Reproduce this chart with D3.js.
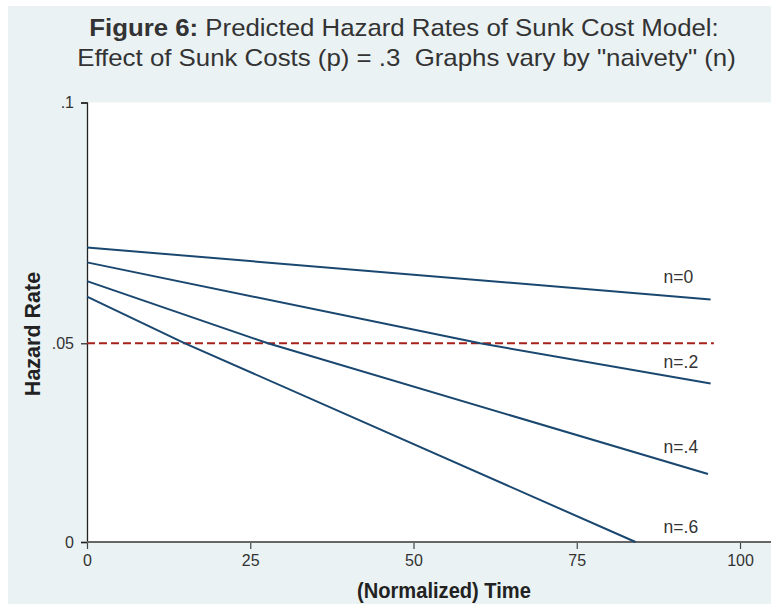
<!DOCTYPE html>
<html>
<head>
<meta charset="utf-8">
<script src="https://cdn.jsdelivr.net/npm/d3@7"></script>
<style>
html,body{margin:0;padding:0;background:#fff;}
svg{display:block;font-family:"Liberation Sans",Arial,sans-serif;}
</style>
</head>
<body>
<svg id="chart" width="771" height="604"></svg>
<script>
// ---- data ----
const seriesNames = ["n=0", "n=.2", "n=.4", "n=.6"];
// time points read for each line: start, crossing of the .05 level (if any), end
const seriesTime   = [[0, 95.5], [0, 60.2, 95.5], [0, 27.7, 95.1], [0, 15.0, 84]];
const seriesHazard = [[0.0699, 0.0591], [0.0668, 0.05, 0.0399], [0.0629, 0.05, 0.0171], [0.0597, 0.05, 0.0]];
const labelTime   = [88.3, 88.3, 88.3, 88.3];
const labelHazard = [0.0625, 0.0437, 0.0223, 0.0022];
const refHazard   = 0.05;
const refRange    = [0, 96];
const xTicks      = [0, 25, 50, 75, 100];
const yTicks      = [0, 0.05, 0.1];
const yTickLabels = ["0", ".05", ".1"];

const svg = d3.select("#chart");
const W = 771, H = 604;

const x = d3.scaleLinear().domain([0, 100]).range([87, 740]);
const y = d3.scaleLinear().domain([0, 0.05, 0.1]).range([542, 343.3, 102.5]);

const textCol = "#333333";
const navy = "#1a476f";

// backgrounds
svg.append("rect").attr("x", 0).attr("y", 0).attr("width", W).attr("height", H).attr("fill", "#ffffff");
svg.append("rect").attr("x", 8).attr("y", 6).attr("width", W - 8).attr("height", H - 6).attr("fill", "#eaf2f3");
svg.append("rect").attr("x", x(0)).attr("y", y(0.1)).attr("width", W - x(0)).attr("height", y(0) - y(0.1)).attr("fill", "#ffffff");

function squeeze(sel, target, cx, cy) {
  const node = sel.node();
  const w = node.getComputedTextLength();
  const s = target / w;
  sel.attr("transform", `translate(${cx},${cy}) scale(${s},1) translate(${-cx},${-cy})`);
}

// title
const t1 = svg.append("text").attr("x", 404).attr("y", 36).attr("text-anchor", "middle")
  .attr("font-size", 24).attr("fill", textCol);
t1.append("tspan").attr("font-weight", "bold").text("Figure 6:");
t1.append("tspan").text(" Predicted Hazard Rates of Sunk Cost Model:");
squeeze(t1, 630, 404, 36);
const t2 = svg.append("text").attr("x", 406.5).attr("y", 66).attr("text-anchor", "middle")
  .attr("font-size", 24).attr("fill", textCol)
  .attr("xml:space", "preserve").style("white-space", "pre")
  .text('Effect of Sunk Costs (p) = .3  Graphs vary by "naivety" (n)');
squeeze(t2, 659, 406.5, 66);

// y axis
const yAxis = d3.axisLeft(y).tickValues(yTicks).tickFormat((d, i) => yTickLabels[i]).tickSize(6).tickPadding(7);
const gy = svg.append("g").attr("transform", `translate(${x(0)},0)`).call(yAxis);
gy.select(".domain").attr("stroke", "#222").attr("stroke-width", 1.3);
gy.selectAll(".tick line").attr("stroke", "#222").attr("stroke-width", 1.2);
gy.selectAll(".tick text").attr("fill", textCol)
  .style("font-size", "16px").style("font-family", "Liberation Sans, Arial, sans-serif");

// x axis
const xAxis = d3.axisBottom(x).tickValues(xTicks).tickSize(7).tickPadding(6);
const gx = svg.append("g").attr("transform", `translate(0,${y(0)})`).call(xAxis);
gx.select(".domain").remove();
gx.append("line").attr("x1", x(0)).attr("x2", W).attr("y1", 0).attr("y2", 0)
  .attr("stroke", "#666").attr("stroke-width", 2);
gx.selectAll(".tick line").attr("stroke", "#444").attr("stroke-width", 1.2);
gx.selectAll(".tick text").attr("fill", textCol)
  .style("font-size", "16px").style("font-family", "Liberation Sans, Arial, sans-serif");

// reference dashed line
svg.append("line")
  .attr("x1", x(refRange[0])).attr("x2", x(refRange[1]))
  .attr("y1", y(refHazard)).attr("y2", y(refHazard))
  .attr("stroke", "#a8201a").attr("stroke-width", 2).attr("stroke-dasharray", "8,4");

// series lines
const line = d3.line().x(d => x(d[0])).y(d => y(d[1]));
seriesNames.forEach((name, i) => {
  const pts = seriesTime[i].map((t, j) => [t, seriesHazard[i][j]]);
  svg.append("path").attr("d", line(pts)).attr("fill", "none")
    .attr("stroke", navy).attr("stroke-width", 2).attr("stroke-linejoin", "round");
  svg.append("text").attr("x", x(labelTime[i])).attr("y", y(labelHazard[i]))
    .attr("font-size", 17.5).attr("fill", textCol).text(name);
});

// axis titles
const ycx = 40, ycy = 334;
svg.append("text").attr("text-anchor", "middle").attr("font-weight", "bold")
  .attr("font-size", 21.5).attr("fill", "#222")
  .attr("transform", `translate(${ycx},${ycy}) rotate(-90)`)
  .text("Hazard Rate");
const xt = svg.append("text").attr("x", 444).attr("y", 598).attr("text-anchor", "middle")
  .attr("font-weight", "bold").attr("font-size", 21.5).attr("fill", "#222")
  .text("(Normalized) Time");
squeeze(xt, 174, 444, 598);
</script>
</body>
</html>
